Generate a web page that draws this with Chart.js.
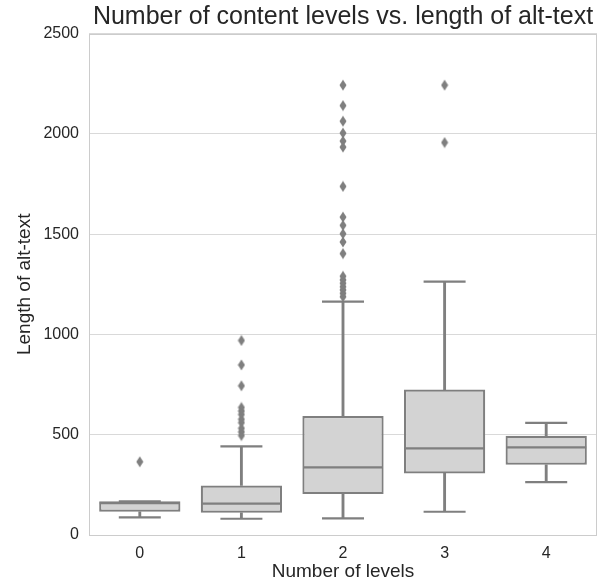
<!DOCTYPE html>
<html>
<head>
<meta charset="utf-8">
<script src="https://cdn.jsdelivr.net/npm/chart.js@4/dist/chart.umd.min.js"></script>
<style>
html,body{margin:0;padding:0;background:#fff;}
canvas{display:block;}
</style>
</head>
<body>
<canvas id="c" width="602" height="585"></canvas>
<script>
// ---- data ----
const categories = ['0', '1', '2', '3', '4'];
const whiskerLow  = [88, 81, 83, 116, 264];
const q1          = [116, 111, 204, 307, 350];
const median      = [159, 156, 337, 432, 437];
const q3          = [168, 247, 593, 725, 495];
const whiskerHigh = [168, 442, 1164, 1263, 559];
const outliers0 = [365];
const outliers1 = [970, 848, 744, 636, 618, 601, 577, 560, 532, 514, 496];
const outliers2 = [2243, 2141, 2063, 2004, 1964, 1934, 1738, 1585, 1544, 1502, 1461, 1403,
                   1290, 1272, 1255, 1238, 1222, 1205, 1188];
const outliers3 = [2243, 1957];
const outliers4 = [];
const yTicks = [0, 500, 1000, 1500, 2000, 2500];

const outlierLists = [outliers0, outliers1, outliers2, outliers3, outliers4];

// ---- styles ----
const LINE = '#7f7f7f';
const FILL = '#d3d3d3';
const GRID = '#d9d9d9';
const SPINE = '#cccccc';
const TEXT = '#262626';
const FONT = "'Liberation Sans', Arial, sans-serif";

// diamond marker (seaborn 'd')
const diamond = document.createElement('canvas');
diamond.width = 8; diamond.height = 12;
(function(){
  const g = diamond.getContext('2d');
  g.fillStyle = LINE;
  g.beginPath();
  g.moveTo(4, 0.5); g.lineTo(7.5, 6); g.lineTo(4, 11.5); g.lineTo(0.5, 6); g.closePath();
  g.fill();
})();

const outlierPoints = [];
outlierLists.forEach((list, i) => list.forEach(v => outlierPoints.push({x: categories[i], y: v})));

const boxData = categories.map((_, i) => [q1[i], q3[i]]);
const lowWhisker = categories.map((_, i) => [whiskerLow[i], q1[i]]);
const highWhisker = categories.map((_, i) => [q3[i], whiskerHigh[i]]);
const capPoints = [];
categories.forEach((c, i) => { capPoints.push({x: c, y: whiskerLow[i]}); capPoints.push({x: c, y: whiskerHigh[i]}); });

// frame around the plot area (axes spines)
const framePlugin = {
  id: 'frame',
  beforeDatasetsDraw(chart) {
    const a = chart.chartArea, ctx = chart.ctx;
    ctx.save();
    ctx.strokeStyle = SPINE;
    ctx.lineWidth = 1;
    ctx.strokeRect(Math.round(a.left) + 0.5, Math.round(a.top) + 0.5,
                   Math.round(a.right - a.left) - 1, Math.round(a.bottom - a.top));
    ctx.restore();
  }
};

new Chart(document.getElementById('c'), {
  type: 'bar',
  data: {
    labels: categories,
    datasets: [
      {
        type: 'line', label: 'outliers', data: outlierPoints, order: 0,
        showLine: false, pointStyle: diamond, pointRadius: 5, pointHoverRadius: 5
      },
      {
        type: 'line', label: 'median', data: median, order: 1,
        showLine: false, pointStyle: 'line', pointRadius: 40, pointHoverRadius: 40,
        pointBorderColor: LINE, pointBorderWidth: 2.2, borderColor: LINE
      },
      {
        type: 'line', label: 'caps', data: capPoints, order: 2,
        showLine: false, pointStyle: 'line', pointRadius: 21, pointHoverRadius: 21,
        pointBorderColor: LINE, pointBorderWidth: 2.2, borderColor: LINE
      },
      {
        label: 'box', data: boxData, order: 3, grouped: false,
        backgroundColor: FILL, borderColor: LINE, borderWidth: 2.2, borderSkipped: false,
        barPercentage: 0.8, categoryPercentage: 1.0
      },
      {
        label: 'whiskerLow', data: lowWhisker, order: 4, grouped: false,
        backgroundColor: LINE, borderWidth: 0, barThickness: 2.2
      },
      {
        label: 'whiskerHigh', data: highWhisker, order: 4, grouped: false,
        backgroundColor: LINE, borderWidth: 0, barThickness: 2.2
      }
    ]
  },
  options: {
    responsive: false,
    animation: false,
    devicePixelRatio: 1,
    events: [],
    layout: { autoPadding: false, padding: { left: 0, right: 5, top: 0, bottom: 0 } },
    plugins: {
      legend: { display: false },
      tooltip: { enabled: false },
      title: {
        display: true,
        text: 'Number of content levels vs. length of alt-text',
        fullSize: false,
        color: TEXT,
        font: { family: FONT, size: 25, weight: 'normal', lineHeight: 1.2 },
        padding: { top: 2, bottom: 1.6 }
      }
    },
    scales: {
      x: {
        type: 'category',
        grid: { display: false, drawTicks: false },
        border: { display: false },
        ticks: { color: TEXT, font: { family: FONT, size: 16 }, padding: 9 },
        title: {
          display: true, text: 'Number of levels', color: TEXT,
          font: { family: FONT, size: 19 }, padding: { top: 0, bottom: 2 }
        },
        afterFit: s => { s.height = 50; }
      },
      y: {
        type: 'linear', position: 'left', min: 0, max: 2500,
        afterBuildTicks: s => { s.ticks = yTicks.map(v => ({ value: v })); },
        grid: { color: GRID, lineWidth: 1, drawTicks: false },
        border: { display: false },
        ticks: { color: TEXT, font: { family: FONT, size: 16 }, padding: 10,
                 callback: v => String(v) },
        title: {
          display: true, text: 'Length of alt-text', color: TEXT,
          font: { family: FONT, size: 19 }, padding: { top: 13, bottom: 0 }
        },
        afterFit: s => { s.width = 89; }
      }
    }
  },
  plugins: [framePlugin]
});
</script>
</body>
</html>
